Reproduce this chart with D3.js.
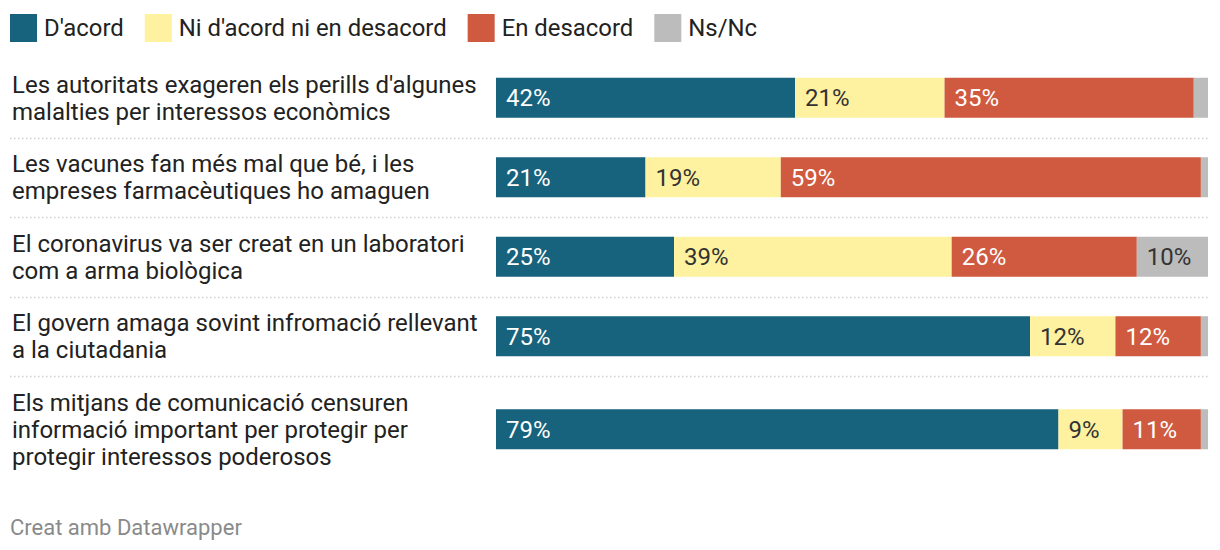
<!DOCTYPE html>
<html><head><meta charset="utf-8">
<script src="https://cdn.jsdelivr.net/npm/d3@7"></script>
<style>body{margin:0;background:#fff;font-family:Roboto,sans-serif}</style>
</head><body><svg id="c" width="1220" height="550"></svg>
<script>
const categories = [
  "Les autoritats exageren els perills d'algunes\nmalalties per interessos econòmics",
  "Les vacunes fan més mal que bé, i les\nempreses farmacèutiques ho amaguen",
  "El coronavirus va ser creat en un laboratori\ncom a arma biològica",
  "El govern amaga sovint infromació rellevant\na la ciutadania",
  "Els mitjans de comunicació censuren\ninformació important per protegir per\nprotegir interessos poderosos"
];
const seriesNames = ["D'acord", "Ni d'acord ni en desacord", "En desacord", "Ns/Nc"];
const acord     = [42, 21, 25, 75, 79];
const ni        = [21, 19, 39, 12, 9];
const desacord  = [35, 59, 26, 12, 11];
const nsnc      = [2, 1, 10, 1, 1];
const colors = ["#17627c", "#fef1a0", "#d05a40", "#bcbcbc"];
const textColors = ["#ffffff", "#333333", "#ffffff", "#333333"];
const footer = "Creat amb Datawrapper";

const svg = d3.select("#c");
const series = [acord, ni, desacord, nsnc];

// legend
let lx = 10;
const leg = svg.append("g");
seriesNames.forEach((n, i) => {
  leg.append("rect").attr("x", lx).attr("y", 14).attr("width", 27).attr("height", 28).attr("fill", colors[i]);
  const t = leg.append("text").attr("x", lx + 34).attr("y", 28).attr("dy", "0.35em")
    .attr("font-size", 23.9).attr("fill", "#222").text(n);
  lx += 34 + t.node().getComputedTextLength() + 21;
});

// layout rows
const lineH = 27, pad = 25.5, barH = 40;
const lines = categories.map(c => c.split("\n"));
let yTop = 58;
const centers = [], bounds = [];
lines.forEach(l => {
  const h = Math.max(barH, l.length * lineH) + pad;
  centers.push(yTop + h / 2);
  yTop += h;
  bounds.push(yTop);
});
const y = d3.scaleOrdinal().domain(categories).range(centers);
const x = d3.scaleLinear().domain([0, 100]).range([496, 1208]);

// separators
svg.append("g").selectAll("line").data(bounds.slice(0, -1)).join("line")
  .attr("x1", 10).attr("x2", 1208).attr("y1", d => Math.round(d) + 0.5).attr("y2", d => Math.round(d) + 0.5)
  .attr("stroke", "#cfcfcf").attr("stroke-width", 1.5).attr("stroke-dasharray", "1.5,2.5");

// row labels
categories.forEach((c, i) => {
  const ls = lines[i];
  const t = svg.append("text").attr("font-size", 24).attr("fill", "#222");
  ls.forEach((s, j) => {
    t.append("tspan").attr("x", 12)
      .attr("y", y(c) + (j - (ls.length - 1) / 2) * lineH)
      .attr("dy", "0.35em").text(s);
  });
});

// bars
const stackData = categories.map((c, i) => {
  let acc = 0;
  return series.map((s, k) => { const o = {c, k, v: s[i], x0: acc}; acc += s[i]; o.x1 = acc; return o; });
}).flat();

const g = svg.append("g");
g.selectAll("rect").data(stackData).join("rect")
  .attr("x", d => x(d.x0)).attr("width", d => x(d.x1) - x(d.x0))
  .attr("y", d => y(d.c) - barH / 2).attr("height", barH)
  .attr("fill", d => colors[d.k]);
g.selectAll("text").data(stackData.filter(d => d.v >= 5)).join("text")
  .attr("x", d => x(d.x0) + 10).attr("y", d => y(d.c)).attr("dy", "0.35em")
  .attr("font-size", 24).attr("fill", d => textColors[d.k])
  .text(d => d.v + "%");

svg.append("text").attr("x", 10).attr("y", 527).attr("dy", "0.35em")
  .attr("font-size", 22).attr("fill", "#8a8a8a").text(footer);
</script></body></html>
